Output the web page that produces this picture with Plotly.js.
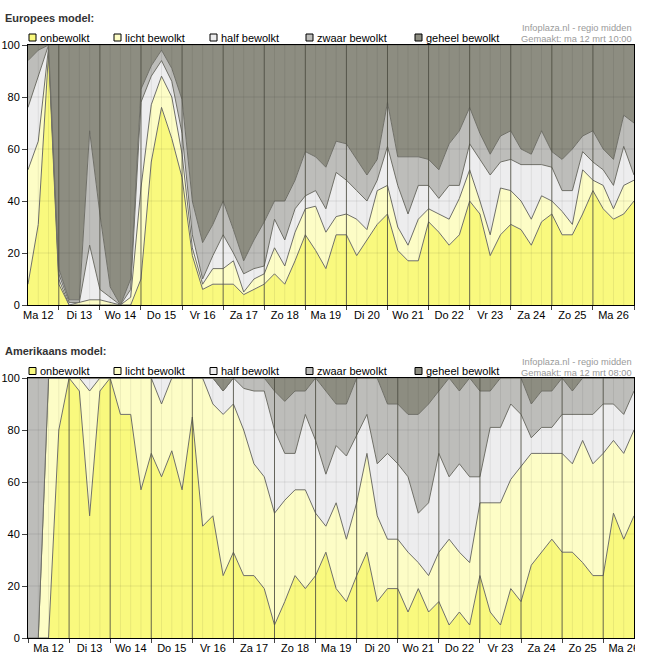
<!DOCTYPE html>
<html><head><meta charset="utf-8">
<script src="https://cdn.plot.ly/plotly-3.0.1.min.js"></script>
<style>html,body{margin:0;padding:0;background:#fff}#chart{width:651px;height:661px}</style>
</head><body><div id="chart"></div>
<script>
// ---------- data ----------
const categories = ['onbewolkt', 'licht bewolkt', 'half bewolkt', 'zwaar bewolkt', 'geheel bewolkt'];
const dayLabels = ['Ma 12','Di 13','Wo 14','Do 15','Vr 16','Za 17','Zo 18','Ma 19','Di 20','Wo 21','Do 22','Vr 23','Za 24','Zo 25','Ma 26'];
const stepHours = 6;

// Europees model: 6-hourly from Ma 12 06:00 (percent per category)
const euStartHour = 6;
const euOnbewolkt = [8,31,97,8,0,0,0,0,0,0, 0,10,55,76,64,49,19,6,8,8, 8,4,6,8,12,8,17,27,21,14, 27,27,19,25,31,35,21,17,17,32, 28,23,27,40,35,19,27,31,29,23, 32,35,27,27,35,44,37,33,35,40];
const euLicht     = [44,32,2,2,0,1,2,2,1,0, 3,35,22,12,16,9,3,2,6,6, 9,1,4,4,10,7,11,10,17,14, 7,8,14,4,13,11,9,6,16,5, 7,10,14,12,5,8,18,13,11,10, 10,5,9,4,17,4,9,4,11,8];
const euHalf      = [24,25,1,2,1,0,21,4,2,0, 3,33,11,6,6,8,5,2,5,13, 3,7,4,3,11,10,9,5,6,9, 17,13,11,11,4,15,16,12,13,9, 6,13,5,10,16,23,10,12,14,21, 12,13,8,13,7,7,6,9,15,2];
const euZwaar     = [18,10,0,2,1,1,44,29,4,0, 4,5,4,4,5,13,13,14,12,13, 9,5,11,17,7,15,11,17,13,16, 12,14,12,10,8,17,11,22,11,10, 11,16,21,14,10,8,10,11,6,4, 13,6,12,16,6,12,8,10,12,20];
const euGeheel    = [6,2,0,86,98,98,33,65,93,100, 90,17,8,2,9,21,60,76,69,60, 71,83,75,68,60,60,52,41,43,47, 37,38,44,50,44,22,43,43,43,44, 48,38,33,24,34,42,35,33,40,42, 33,41,44,40,35,33,40,44,27,30];

// Amerikaans model: 6-hourly from Ma 12 00:00
const usStartHour = 0;
const usOnbewolkt = [0,0,0,80,100,95,47,95,100,86, 86,57,71,62,72,57,85,43,47,24, 33,24,24,19,5,14,24,19,24,33, 19,14,24,33,14,19,19,10,19,10, 14,5,10,5,24,10,5,19,14,28, 33,38,33,33,29,24,24,48,38,47];
const usLicht     = [0,0,100,20,0,5,48,5,0,14, 14,43,29,28,28,43,15,57,43,62, 57,56,43,43,43,39,33,38,24,10, 33,24,28,38,33,19,19,23,10,14, 19,33,23,24,28,42,47,42,52,43, 38,33,38,34,47,43,47,28,33,33];
const usHalf      = [0,0,0,0,0,0,5,0,0,0, 0,0,0,10,0,0,0,0,10,9, 10,16,28,33,32,18,14,29,28,20, 22,32,26,15,20,33,29,29,19,28, 38,24,34,33,10,29,29,29,20,6, 10,10,15,19,10,19,19,14,15,15];
const usZwaar     = [100,100,0,0,0,0,0,0,0,0, 0,0,0,0,0,0,0,0,0,0, 0,4,5,5,15,20,24,9,24,32, 16,20,22,14,33,19,23,24,38,38, 24,38,28,38,33,14,19,10,14,13, 14,14,14,9,14,14,10,10,14,5];
const usGeheel    = [0,0,0,0,0,0,0,0,0,0, 0,0,0,0,0,0,0,0,0,5, 0,0,0,0,5,9,5,5,0,5, 10,10,0,0,0,10,10,14,14,10, 5,0,5,0,5,5,0,0,0,10, 5,5,0,5,0,0,0,0,0,0];

// ---------- styling ----------
const COLORS = ['#F9F97E', '#FDFDC6', '#EDEDEE', '#BDBDBA', '#8D8D81'];
const W = 651, H = 661, ML = 28, MR = 17, MT = 45, MB = 23;
const PW = W - ML - MR, PH = H - MT - MB;
const px = v => (v - ML) / PW;
const py = v => (H - MB - v) / PH;
const FONT = 'Liberation Sans, Arial, sans-serif';

const euHours = euOnbewolkt.map((_, i) => euStartHour + stepHours * i);
const usHours = usOnbewolkt.map((_, i) => usStartHour + stepHours * i);

function stackTraces(x, series, xa, ya, group) {
  return series.map((vals, k) => ({
    type: 'scatter', mode: 'lines', x: x, y: vals, stackgroup: group,
    xaxis: xa, yaxis: ya, fillcolor: COLORS[k],
    line: {color: '#707068', width: 1}, hoverinfo: 'skip', showlegend: false, name: categories[k]
  }));
}
const traces = [
  ...stackTraces(euHours, [euOnbewolkt, euLicht, euHalf, euZwaar, euGeheel], 'x', 'y', 'eu'),
  ...stackTraces(usHours, [usOnbewolkt, usLicht, usHalf, usZwaar, usGeheel], 'x2', 'y2', 'us')
];

function dayTicks(x0, x1) {
  const bounds = [], noons = [], texts = [];
  for (let d = 0; d < dayLabels.length + 1; d++) {
    const b = d * 24;
    if (b >= x0 && b <= x1) bounds.push(b);
    if (d < dayLabels.length && b + 12 >= x0 && b + 12 <= x1) { noons.push(b + 12); texts.push(dayLabels[d]); }
  }
  return {bounds, noons, texts};
}

function gridShapes(xa, ya, x0, x1) {
  const s = [];
  for (let h = Math.ceil(x0 / stepHours) * stepHours; h <= x1; h += stepHours) {
    if (h === x0 || h === x1) continue;
    const isDay = h % 24 === 0;
    s.push({type: 'line', layer: 'above', xref: xa, yref: ya + ' domain', x0: h, x1: h, y0: 0, y1: 1,
      line: {color: isDay ? 'rgba(75,75,65,0.85)' : 'rgba(0,0,0,0.07)', width: 1}});
  }
  [20, 40, 60, 80].forEach(v => s.push({type: 'line', layer: 'above', xref: xa + ' domain', yref: ya,
    x0: 0, x1: 1, y0: v, y1: v, line: {color: 'rgba(0,0,0,0.09)', width: 1}}));
  return s;
}

const euRange = [euHours[0], euHours[euHours.length - 1]];
const usRange = [usHours[0], usHours[usHours.length - 1]];
const euT = dayTicks(euRange[0], euRange[1]);
const usT = dayTicks(usRange[0], usRange[1]);

function xAxis(range, t, anchor) {
  return {
    anchor: anchor, domain: [0, 1], range: range, type: 'linear',
    tickmode: 'array', tickvals: t.noons, ticktext: t.texts, ticks: '',
    showgrid: false, zeroline: false, showline: true, linecolor: '#000', linewidth: 1, mirror: true,
    tickfont: {family: FONT, size: 11, color: '#000'},
    minor: {tickmode: 'array', tickvals: t.bounds, ticks: 'outside', ticklen: 4, tickcolor: '#444', tickwidth: 1, showgrid: false},
    fixedrange: true
  };
}
function yAxis(domain, anchor) {
  return {
    anchor: anchor, domain: domain, range: [0, 100], tickmode: 'array', tickvals: [0, 20, 40, 60, 80, 100],
    ticks: 'outside', ticklen: 5, tickcolor: '#444', showgrid: false, zeroline: false,
    showline: true, linecolor: '#000', linewidth: 1, mirror: true,
    tickfont: {family: FONT, size: 11, color: '#000'}, fixedrange: true
  };
}

const annotations = [], shapes = [];
shapes.push(...gridShapes('x', 'y', euRange[0], euRange[1]));
shapes.push(...gridShapes('x2', 'y2', usRange[0], usRange[1]));

function header(title, madeText, titleY, legendY) {
  annotations.push({xref: 'paper', yref: 'paper', x: px(3), y: py(titleY), xanchor: 'left', yanchor: 'middle',
    text: '<b>' + title + '</b>', showarrow: false, font: {family: FONT, size: 11, color: '#333'}});
  annotations.push({xref: 'paper', yref: 'paper', x: px(634), y: py(legendY - 9), xanchor: 'right', yanchor: 'middle',
    text: 'Infoplaza.nl - regio midden', showarrow: false, font: {family: FONT, size: 9.3, color: '#9a9a9a'}});
  annotations.push({xref: 'paper', yref: 'paper', x: px(634), y: py(legendY + 1.5), xanchor: 'right', yanchor: 'middle',
    text: madeText, showarrow: false, font: {family: FONT, size: 9.3, color: '#9a9a9a'}});
  const sqX = [29, 114, 210, 306, 415];
  categories.forEach((c, k) => {
    shapes.push({type: 'rect', xref: 'paper', yref: 'paper', x0: px(sqX[k]), x1: px(sqX[k] + 7),
      y0: py(legendY + 3.5), y1: py(legendY - 3.5), fillcolor: COLORS[k], line: {color: '#000', width: 1}});
    annotations.push({xref: 'paper', yref: 'paper', x: px(sqX[k] + 9), y: py(legendY), xanchor: 'left', yanchor: 'middle',
      text: c, showarrow: false, font: {family: FONT, size: 11, color: '#000'}});
  });
}
header('Europees model:', 'Gemaakt: ma 12 mrt 10:00', 17.5, 37.5);
header('Amerikaans model:', 'Gemaakt: ma 12 mrt 08:00', 351, 371);

// clip the overhanging last day label of the lower chart like the reference
shapes.push({type: 'rect', xref: 'paper', yref: 'paper', layer: 'above', x0: px(635), x1: px(651), y0: py(661), y1: py(640),
  fillcolor: '#fff', line: {width: 0}});

const layout = {
  width: W, height: H, margin: {l: ML, r: MR, t: MT, b: MB, pad: 0},
  paper_bgcolor: '#fff', plot_bgcolor: '#fff', showlegend: false,
  font: {family: FONT, size: 11, color: '#000'},
  xaxis: xAxis(euRange, euT, 'y'),
  yaxis: yAxis([(H - MB - 305) / PH, 1], 'x'),
  xaxis2: xAxis(usRange, usT, 'y2'),
  yaxis2: yAxis([0, (H - MB - 378) / PH], 'x2'),
  shapes: shapes, annotations: annotations
};
Plotly.newPlot('chart', traces, layout, {displayModeBar: false, staticPlot: true});
</script></body></html>
